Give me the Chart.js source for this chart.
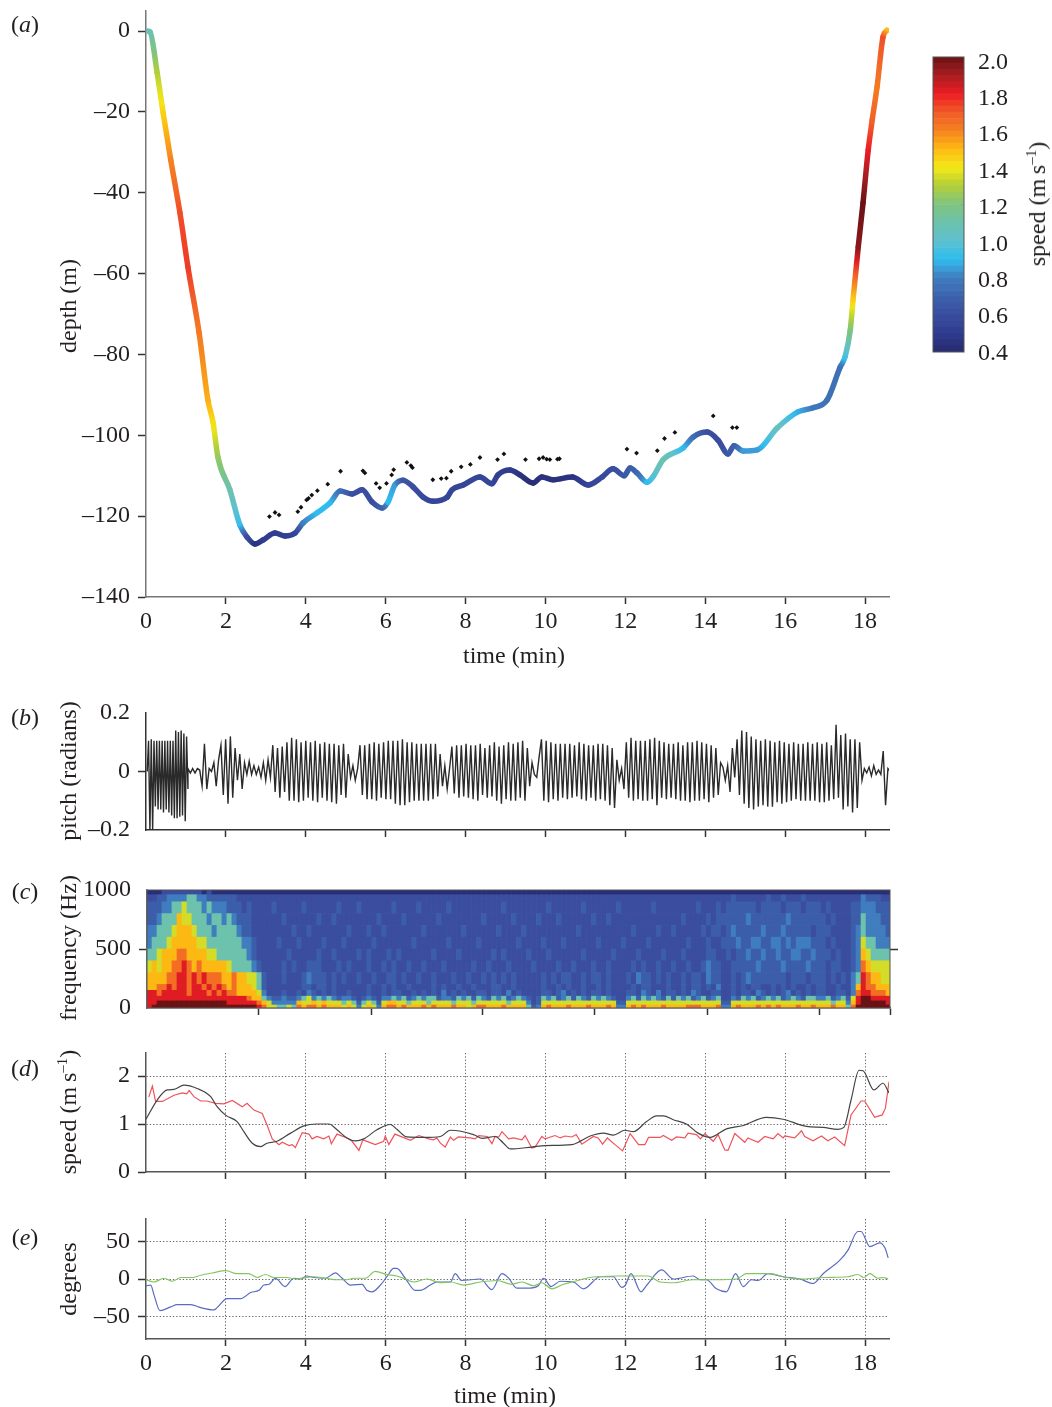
<!DOCTYPE html>
<html>
<head>
<meta charset="utf-8">
<title>dive profile</title>
<script src="https://cdn.jsdelivr.net/npm/chart.js@4"></script>
<style>
  html, body { margin: 0; padding: 0; background: #fff; overflow: hidden; }
  #page { position: relative; width: 1052px; height: 1407px; font-family: "Liberation Serif", serif; color: #231f20; }
  #page canvas { position: absolute; }
  .txt { position: absolute; font-size: 24px; line-height: 24px; white-space: nowrap; transform: translate(-50%, -50%); }
  .rot { transform: translate(-50%, -50%) rotate(-90deg); }
  .txt sup { font-size: 15px; line-height: 0; }
</style>
</head>
<body>
<div id="page"></div>
<script>
// colour scale
const cmapSpeed = [0.4, 0.5, 0.6, 0.7, 0.8, 0.85, 0.9, 0.95, 1.0, 1.1, 1.2, 1.3, 1.4, 1.5, 1.6, 1.7, 1.8, 1.9, 2.0];
const cmapColor = ['#272a6e', '#2f3c8f', '#3a4d9f', '#3c62ad', '#3f7dbf', '#3b9cd8', '#2fbdf0', '#45bfe0', '#5fc0cf', '#6cc2ac', '#7fc47e', '#b2cf3a', '#f5e916', '#fdb913', '#f58220', '#f15a29', '#ed1c24', '#a61e22', '#6b1214'];
const colorTicks = [0.6, 0.8, 1.0, 1.2, 1.4, 1.6, 1.8];

// (a) dive track
const trackTime = [0.03, 0.10, 0.28, 0.43, 0.62, 0.85, 1.05, 1.33, 1.55, 1.68, 1.80, 2.10, 2.35, 2.53, 2.73, 2.93, 3.23, 3.48, 3.73, 3.93, 4.28, 4.61, 4.86, 5.16, 5.41, 5.66, 5.91, 6.06, 6.23, 6.43, 6.69, 6.94, 7.19, 7.54, 7.66, 7.94, 8.36, 8.66, 8.81, 9.11, 9.36, 9.69, 9.91, 10.19, 10.67, 11.07, 11.42, 11.69, 11.97, 12.12, 12.29, 12.54, 12.69, 12.94, 13.45, 13.70, 14.05, 14.32, 14.57, 14.72, 14.95, 15.30, 15.80, 16.32, 16.70, 17.05, 17.38, 17.50, 17.63, 17.70, 17.83, 17.95, 18.08, 18.18, 18.30, 18.45, 18.55];
const trackDepth = [0, -0.2, -10.4, -20.3, -31.9, -45, -58.4, -74.7, -91.3, -96.9, -105.4, -113.5, -122.2, -125.2, -126.9, -125.9, -124.2, -124.9, -124.2, -121.7, -119.2, -116.7, -113.8, -114.5, -113.5, -116.5, -118, -116.5, -112.3, -111.1, -112.8, -115.3, -116.3, -115.3, -113.5, -112.3, -110.3, -112, -109.8, -108.6, -109.8, -111.8, -110.3, -111, -110.3, -112.3, -110.3, -108.3, -110, -108.1, -109.3, -111.6, -110.3, -106.1, -103.1, -100.4, -99.2, -101.2, -104.6, -102.6, -103.9, -103.6, -98.2, -94.2, -93.2, -91.3, -83.1, -80.6, -74, -66.5, -53.4, -42.5, -29.4, -22, -13.9, -1.5, 0.2];
const trackSpeed = [1.05, 1.1, 1.3, 1.45, 1.6, 1.72, 1.75, 1.62, 1.52, 1.42, 1.25, 1.1, 0.92, 0.6, 0.45, 0.5, 0.5, 0.52, 0.55, 0.8, 0.9, 0.9, 0.75, 0.6, 0.6, 0.6, 0.7, 0.9, 0.85, 0.65, 0.6, 0.58, 0.55, 0.55, 0.55, 0.55, 0.55, 0.55, 0.52, 0.5, 0.45, 0.42, 0.45, 0.45, 0.45, 0.55, 0.58, 0.6, 0.65, 0.68, 0.72, 0.9, 0.98, 1.1, 0.9, 0.75, 0.6, 0.58, 0.65, 0.7, 0.85, 0.85, 1.05, 0.88, 0.78, 0.75, 0.75, 0.95, 1.2, 1.45, 1.95, 2.0, 1.8, 1.68, 1.62, 1.72, 1.5];
const dotTime = [3.09, 3.23, 3.33, 3.80, 3.88, 4.02, 4.07, 4.15, 4.29, 4.55, 4.87, 5.43, 5.48, 5.76, 5.85, 6.02, 6.15, 6.20, 6.53, 6.63, 6.67, 7.18, 7.39, 7.52, 7.64, 7.89, 8.12, 8.36, 8.80, 8.96, 9.50, 9.84, 9.94, 10.03, 10.11, 10.30, 10.35, 12.04, 12.28, 12.80, 12.98, 13.24, 14.20, 14.68, 14.79];
const dotDepth = [-120.1, -119.1, -119.7, -118.9, -117.8, -116, -115.6, -114.8, -113.7, -112.1, -108.9, -108.8, -109.3, -111.9, -113, -111.9, -109.8, -108.5, -106.7, -107.5, -108, -111, -110.7, -110.6, -108.9, -107.8, -107.2, -105.5, -106, -104.6, -106, -105.8, -105.5, -105.9, -106, -105.9, -105.8, -103.4, -104.4, -103.8, -100.8, -99.3, -95.2, -98.1, -98.1];

// (b) pitch, the fast strokes at the start and then the rest of the dive
const pitchBurst = [0, 0.105, -0.2, 0.11, -0.2, 0.105, -0.12, 0.105, -0.13, 0.105, -0.13, 0.105, -0.14, 0.105, -0.13, 0.105, -0.14, 0.105, -0.15, 0.105, -0.16, 0.14, -0.16, 0.135, -0.155, 0.14, -0.15, 0.13, -0.17, 0.12, -0.06];
const pitchRest = [0.01, -0.005, 0.01, -0.005, 0.01, 0.005,
  -0.05, 0.095, -0.06, 0.01, 0, 0.03, -0.05, 0.04,
  0.09, -0.08, 0.11, -0.11, 0.12, -0.09,
  0.08, -0.03, 0.06, -0.06, 0.03, -0.01, 0.035, -0.01, 0.02, -0.01, 0.015,
  -0.02, 0.03, -0.03, 0.04, -0.02,
  0.09, -0.07, 0.08, -0.09, 0.085, -0.07, 0.1, -0.1, 0.115, -0.1, 0.11, -0.105, 0.1, -0.1, 0.105, -0.09, 0.1, -0.1, 0.105, -0.105, 0.095, -0.09, 0.1, -0.1, 0.095, -0.105, 0.095, -0.11, 0.09, -0.08, 0.095, -0.09, 0.06, -0.02, 0.02,
  -0.03, 0.01,
  0.09, -0.08, 0.09, -0.095, 0.095, -0.095, 0.1, -0.1, 0.095, -0.09, 0.1, -0.095, 0.105, -0.095, 0.105, -0.11, 0.105, -0.115, 0.11, -0.115, 0.1, -0.105, 0.1, -0.1, 0.095, -0.1, 0.095, -0.1, 0.095, -0.1, 0.095, -0.095, 0.095, -0.085, 0.06,
  -0.05, 0.02, -0.06, 0.01,
  0.085, -0.075, 0.09, -0.09, 0.09, -0.085, 0.095, -0.09, 0.09, -0.095, 0.09, -0.1, 0.095, -0.08, 0.08, -0.09, 0.09, -0.085, 0.1, -0.1, 0.085, -0.11, 0.09, -0.095, 0.1, -0.1, 0.095, -0.1, 0.1, -0.09, 0.105, -0.1, 0.08, -0.05, 0.03,
  -0.01, -0.02, 0.05,
  0.11, -0.1, 0.105, -0.105, 0.1, -0.095, 0.095, -0.1, 0.095, -0.09, 0.095, -0.095, 0.095, -0.09, 0.09, -0.085, 0.1, -0.095, 0.095, -0.1, 0.09, -0.09, 0.09, -0.1, 0.095, -0.095, 0.095, -0.1, 0.09, -0.115, 0.08, -0.125, 0.04,
  -0.03, 0.01, -0.06,
  0.1, -0.09, 0.115, -0.1, 0.105, -0.095, 0.105, -0.1, 0.105, -0.1, 0.11, -0.095, 0.115, -0.115, 0.105, -0.09, 0.1, -0.095, 0.095, -0.09, 0.095, -0.095, 0.1, -0.1, 0.09, -0.1, 0.1, -0.105, 0.1, -0.1, 0.105, -0.1, 0.1, -0.095, 0.095, -0.105, 0.09, -0.09, 0.08, -0.08, 0.03,
  0.015, -0.03, 0.02, -0.07,
  0.08, -0.02, 0.11, -0.08, 0.14, -0.11, 0.135, -0.125, 0.12, -0.13, 0.11, -0.12, 0.105, -0.115, 0.11, -0.12, 0.105, -0.12, 0.1, -0.105, 0.105, -0.11, 0.1, -0.105, 0.095, -0.1, 0.1, -0.095, 0.095, -0.1, 0.095, -0.1, 0.1, -0.1, 0.095, -0.1, 0.1, -0.105, 0.095, -0.105, 0.1, -0.1, 0.09, -0.095, 0.16, -0.09, 0.125, -0.13, 0.13, -0.12, 0.11, -0.14, 0.11, -0.125, 0.1, -0.03,
  0.01, -0.005, 0.015, -0.015, 0.02, -0.01, 0.005, -0.01, 0.07, -0.115, 0.01, 0];

// (c) spectrogram, one digit per 0.125 min column (level 0-9), one string per frequency band
const bandEdges = [0, 25, 60, 100, 150, 200, 300, 400, 500, 600, 700, 800, 900, 960, 1000];
const levelSpeed = [0.42, 0.6, 0.68, 0.8, 1.1, 1.35, 1.5, 1.65, 1.82, 2.0];
const band0 = '89999 99999 99999 99999 99875 54454 76776 76665 65356 53677 67666 76766 67665 67766 67666 64236 76667 66676 66763 36767 66676 66677 76667 33676 66767 67666 76676 66766 47 99999999';
const band1 = '88999 99999 99999 98888 88765 33333 65565 65554 54245 42566 55455 54555 54555 45555 55455 53125 55555 55555 55552 25555 55555 55555 55555 22555 55555 55555 55555 55455 36 89999988';
const band2 = '88888 88888 88888 88888 76643 22322 34534 34323 32123 21334 34234 34423 32434 24324 34234 32124 34234 24324 34321 13424 34324 24342 34234 11324 34234 34234 32443 34234 25 89988887';
const band3 = '88788 88878 88787 87766 66531 11211 21321 21211 21112 11212 21121 21213 12121 12212 21312 11112 21231 21212 21211 12213 21312 21213 21122 11212 21321 21231 21212 21122 13 78877766';
const band4 = '66778 78878 87878 76766 65421 11111 12212 21211 11112 11212 11211 11212 11211 21112 21121 11112 11212 11211 21211 11212 21112 11212 21213 11212 12211 21212 11212 21121 13 68776666';
const band5 = '66667 78878 78777 66766 55421 11211 12322 21212 11211 21122 12112 11211 12112 11212 12121 11112 12122 11212 21211 12132 21212 11212 21322 11212 32222 22212 22122 21212 13 48766555';
const band6 = '56566 77876 76666 65444 43211 11212 11222 11121 21112 11212 11211 21112 11111 21121 11211 11211 11211 21112 11211 11212 11211 21121 12322 11222 22322 22322 22322 21221 12 37655555';
const band7 = '44566 67766 66554 44444 32111 11121 11112 11211 11212 11121 21111 11211 11211 11112 12111 12111 21111 11211 11121 11121 11121 11211 11221 12122 32232 23223 32232 22121 12 36544444';
const band8 = '34445 66666 55444 44443 32111 12111 21111 21112 11111 21111 11121 11111 21111 12111 11112 11112 11121 11111 21111 21111 21111 11121 11211 22232 23322 33232 33322 21211 12 35443333';
const band9 = '33444 56665 44434 44432 21111 11112 11211 11111 21112 11211 11111 21111 11121 11111 21111 21111 11111 12111 11111 11211 11211 21111 12122 12322 22232 22322 22212 22111 12 34333322';
const band10 = '22344 46554 44344 34322 21111 11211 11112 11211 11111 12111 12111 11121 11111 11211 11121 11121 11211 11112 11211 11111 11111 11211 11212 22222 32222 22232 22222 21211 12 24333222';
const band11 = '22233 44544 43433 32221 21111 21111 12111 11121 11211 11112 11112 11111 21111 11111 12111 11111 21111 11211 11112 11111 12111 11111 21112 12222 22122 22122 21222 12111 12 23332221';
const band12 = '11223 33344 33222 22211 11111 11111 11111 11111 11111 11111 11111 11111 11111 11111 11111 11111 11111 11111 11111 11111 11111 11111 11111 11211 11112 11211 12111 11111 11 13222111';
const band13 = '00011 11111 10100 00000 00000 00000 00000 00000 00000 00000 00000 00000 00000 00000 00000 00000 00000 00000 00000 00000 00000 00000 00000 00000 00000 00000 00000 00000 00 00000000';
const bandLevels = [band0, band1, band2, band3, band4, band5, band6, band7, band8, band9, band10, band11, band12, band13];
// thin vertical streaks: time, low and high frequency, speed colour
const streakTime = [3.58, 3.72, 3.95, 4.20, 4.40, 4.70, 5.05, 5.40, 5.75, 6.10, 6.40, 6.70, 7.00, 7.40, 7.70, 8.05, 8.40, 8.70, 8.90, 9.25, 9.90, 10.15, 10.50, 10.85, 11.15, 11.40, 12.10, 12.40, 12.70, 13.00, 13.30, 13.60, 13.90, 14.10, 14.75, 15.00, 15.30, 15.60, 16.00, 16.30, 16.60, 16.95];
const streakLow = [400, 100, 100, 100, 270, 100, 100, 100, 100, 100, 100, 100, 100, 100, 100, 100, 100, 100, 50, 100, 100, 100, 100, 100, 50, 100, 100, 100, 100, 100, 100, 100, 100, 100, 100, 100, 100, 100, 100, 100, 100, 100];
const streakHigh = [470, 280, 200, 170, 470, 210, 190, 220, 170, 240, 180, 200, 230, 190, 210, 170, 260, 190, 960, 200, 220, 170, 240, 190, 1000, 200, 240, 180, 220, 190, 230, 200, 170, 380, 280, 230, 190, 260, 200, 220, 180, 240];
const streakSpeed = [0.95, 0.9, 0.9, 0.9, 1.6, 0.9, 0.9, 0.95, 0.9, 0.9, 0.9, 0.95, 0.9, 0.9, 0.9, 0.9, 0.95, 0.9, 1.15, 0.9, 0.9, 0.9, 0.95, 0.9, 1.3, 0.9, 0.95, 0.9, 0.9, 0.9, 0.95, 0.9, 0.9, 0.95, 0.95, 0.9, 0.9, 0.95, 0.9, 0.9, 0.9, 0.95];
// faint tones near the end of the dive: start, end, frequency
const toneStart = [14.67, 15.67, 15.67, 15.2];
const toneEnd = [16.0, 17.05, 17.05, 16.5];
const toneFreq = [620, 550, 490, 263];
const specTicks = [2.80, 5.61, 8.41, 11.21, 14.04, 16.84, 18.6];

// (d) speed
const speedTime = [0, 0.28, 0.53, 0.7, 0.95, 1.28, 1.62, 1.78, 2, 2.28, 2.45, 2.66, 2.87, 3.03, 3.28, 3.62, 3.95, 4.28, 4.58, 4.78, 5.03, 5.24, 5.45, 5.78, 6.12, 6.28, 6.53, 6.95, 7.37, 7.62, 8.2, 8.41, 8.74, 8.95, 9.12, 9.66, 9.99, 10.66, 11.12, 11.45, 11.7, 11.99, 12.2, 12.53, 12.78, 12.95, 13.2, 13.53, 13.82, 14.12, 14.53, 14.95, 15.53, 15.95, 16.53, 16.95, 17.32, 17.47, 17.65, 17.85, 17.95, 18.22, 18.45, 18.6];
const speedDepthRate = [1.1, 1.5, 1.71, 1.72, 1.81, 1.74, 1.57, 1.36, 1.18, 1.05, 0.84, 0.6, 0.53, 0.6, 0.64, 0.81, 0.96, 1, 1, 0.88, 0.71, 0.65, 0.69, 0.88, 0.99, 0.89, 0.73, 0.72, 0.74, 0.87, 0.78, 0.7, 0.74, 0.6, 0.48, 0.52, 0.55, 0.57, 0.75, 0.81, 0.77, 0.87, 0.84, 1.05, 1.17, 1.17, 1.09, 1, 0.81, 0.72, 0.9, 0.97, 1.14, 1.1, 0.95, 0.93, 0.89, 0.93, 1.5, 2.12, 2.11, 1.71, 1.85, 1.65];
const flowTime = [0.07, 0.16, 0.24, 0.41, 0.7, 0.91, 1.02, 1.08, 1.2, 1.37, 1.53, 1.74, 1.95, 2.16, 2.41, 2.53, 2.7, 2.91, 3.03, 3.16, 3.33, 3.41, 3.58, 3.66, 3.74, 3.91, 4.08, 4.16, 4.28, 4.45, 4.58, 4.64, 4.78, 5.03, 5.16, 5.33, 5.43, 5.74, 5.95, 5.99, 6.08, 6.23, 6.62, 6.83, 7.08, 7.2, 7.28, 7.37, 7.49, 7.62, 7.7, 7.82, 8.12, 8.24, 8.33, 8.54, 8.66, 8.74, 8.83, 8.91, 9.08, 9.2, 9.41, 9.49, 9.66, 9.74, 9.91, 9.99, 10.24, 10.37, 10.49, 10.66, 10.77, 10.91, 11.2, 11.32, 11.43, 11.55, 11.74, 11.93, 12.12, 12.33, 12.49, 12.58, 12.87, 12.95, 13.16, 13.28, 13.49, 13.57, 13.78, 13.88, 13.99, 14.2, 14.32, 14.49, 14.57, 14.74, 14.99, 15.07, 15.32, 15.49, 15.7, 15.82, 15.95, 15.99, 16.24, 16.41, 16.49, 16.7, 16.91, 17.07, 17.24, 17.49, 17.65, 17.9, 17.99, 18.24, 18.43, 18.51, 18.6];
const flowSpeed = [1.56, 1.79, 1.47, 1.47, 1.6, 1.65, 1.63, 1.7, 1.57, 1.48, 1.48, 1.43, 1.42, 1.49, 1.36, 1.43, 1.29, 1.22, 0.98, 0.69, 0.57, 0.62, 0.55, 0.57, 0.51, 0.82, 0.79, 0.69, 0.74, 0.69, 0.75, 0.59, 0.79, 0.71, 0.64, 0.45, 0.67, 0.57, 0.64, 0.75, 0.57, 0.79, 0.66, 0.76, 0.69, 0.67, 0.71, 0.6, 0.52, 0.73, 0.66, 0.73, 0.71, 0.69, 0.76, 0.74, 0.59, 0.74, 0.73, 0.84, 0.69, 0.71, 0.67, 0.76, 0.5, 0.52, 0.74, 0.69, 0.76, 0.71, 0.75, 0.73, 0.78, 0.58, 0.74, 0.71, 0.58, 0.71, 0.57, 0.44, 0.8, 0.57, 0.57, 0.72, 0.72, 0.76, 0.66, 0.73, 0.71, 0.81, 0.78, 0.69, 0.8, 0.64, 0.78, 0.46, 0.45, 0.8, 0.62, 0.71, 0.62, 0.74, 0.69, 0.8, 0.71, 0.75, 0.71, 0.86, 0.74, 0.65, 0.75, 0.65, 0.73, 0.55, 1.19, 1.48, 1.48, 1.14, 1.19, 1.33, 1.88];

// (e) degrees
const blueTime = [0, 0.12, 0.2, 0.35, 0.62, 0.78, 1.12, 1.37, 1.7, 1.78, 2.03, 2.37, 2.62, 2.83, 2.95, 3.08, 3.24, 3.48, 3.7, 3.87, 4.02, 4.2, 4.49, 4.74, 4.91, 5.12, 5.41, 5.53, 5.66, 5.87, 6.03, 6.2, 6.28, 6.49, 6.74, 6.87, 7.12, 7.28, 7.62, 7.74, 7.9, 8.37, 8.66, 8.91, 9.08, 9.28, 9.62, 9.82, 9.95, 10.14, 10.37, 10.7, 10.95, 11.37, 11.7, 11.91, 12, 12.14, 12.39, 12.54, 12.91, 13.2, 13.7, 13.87, 14.03, 14.28, 14.53, 14.76, 14.95, 15.16, 15.32, 15.57, 15.95, 16.37, 16.7, 16.95, 17.37, 17.57, 17.82, 17.9, 18.12, 18.37, 18.5, 18.58];
const blueDeg = [-9, -8, -21, -42, -37, -34, -34, -38, -41, -38, -26, -26, -18, -15, -8, -7, 1, -10, 1, 0, 4, 2, 1, 8, 1, -8, -7, -15, -17, -8, 3, 14, 14, 1, -15, -15, -8, -4, -4, 7, -2, 0, -14, 7, 1, -12, -12, -9, 1, -10, -3, -4, -13, 3, 3, -11, -8, 7, -17, -8, 12, 0, 4, -1, -1, -13, -17, 7, -10, -1, -2, 7, 3, 0, -6, 7, 25, 38, 63, 63, 43, 48, 41, 28];
const greenTime = [0, 0.2, 0.45, 0.66, 0.87, 1.16, 1.37, 1.66, 2, 2.28, 2.57, 2.78, 2.99, 3.2, 3.53, 3.74, 4.2, 4.49, 4.78, 5.03, 5.2, 5.49, 5.74, 6.03, 6.28, 6.49, 6.7, 7.03, 7.37, 7.62, 7.95, 8.37, 8.79, 9.16, 9.41, 9.7, 9.91, 10.16, 10.45, 10.74, 11.12, 11.78, 12.57, 12.87, 13.2, 13.7, 14.28, 14.78, 15.03, 15.62, 16.03, 16.45, 16.95, 17.57, 17.82, 17.97, 18.12, 18.32, 18.45, 18.58];
const greenDeg = [-1, -4, 1, -3, 2, 2, 5, 8, 11, 7, 7, 2, 6, 2, 2, 0, 3, 1, -1, -1, 1, 1, 10, 6, 4, 0, -4, 0, -5, -4, -8, -4, -2, -7, -4, -9, -5, -13, -7, -3, 2, 4, 4, -4, -5, -1, -1, 0, 7, 7, 2, 0, 2, 3, 6, 2, 7, 1, 2, 0];

const timeTicks = [0, 2, 4, 6, 8, 10, 12, 14, 16, 18];

Chart.defaults.font.family = '"Liberation Serif", serif';
Chart.defaults.font.size = 24;
Chart.defaults.color = '#231f20';

const page = document.getElementById('page');
const PAD = 30;
const HIDDEN = 'rgba(0,0,0,0)';

function zip(xs, ys) {
  return xs.map((x, i) => ({ x: x, y: ys[i] }));
}

function speedColor(v) {
  let i = 0;
  while (i < cmapSpeed.length - 2 && v > cmapSpeed[i + 1]) { i += 1; }
  const f = Math.min(1, Math.max(0, (v - cmapSpeed[i]) / (cmapSpeed[i + 1] - cmapSpeed[i])));
  const a = parseInt(cmapColor[i].slice(1), 16);
  const b = parseInt(cmapColor[i + 1].slice(1), 16);
  const mix = (s) => Math.round(((a >> s) & 255) * (1 - f) + ((b >> s) & 255) * f);
  return `rgb(${mix(16)}, ${mix(8)}, ${mix(0)})`;
}

function levelColor(level) {
  return speedColor(levelSpeed[level]);
}

function addText(html, x, y, rotated) {
  const el = document.createElement('div');
  el.className = rotated ? 'txt rot' : 'txt';
  el.innerHTML = html;
  el.style.left = `${x}px`;
  el.style.top = `${y}px`;
  page.appendChild(el);
}

function dash(value) {
  return String(value).replace('-', '\u2013');
}

function xAxis(opts) {
  return {
    type: 'linear',
    offset: false,
    min: 0,
    max: 18.6,
    border: { color: opts.border || '#555', width: 1.5, dash: opts.dots ? [1.3, 2] : undefined },
    grid: {
      offset: false,
      drawOnChartArea: !!opts.dots,
      color: (ctx) => (ctx.tick && ctx.tick.value === 0 ? HIDDEN : '#666'),
      lineWidth: 1,
      tickColor: (ctx) => (ctx.tick && ctx.tick.value === 0 ? HIDDEN : '#333'),
      tickWidth: 1.5,
      tickLength: 7
    },
    ticks: {
      display: !!opts.labels,
      autoSkip: false,
      maxRotation: 0,
      padding: 3,
      callback: (value) => value
    },
    afterBuildTicks: (scale) => { scale.ticks = (opts.ticks || timeTicks).map((v) => ({ value: v })); },
    afterFit: (scale) => { scale.height = opts.height; }
  };
}

function yAxis(opts) {
  return {
    min: opts.min,
    max: opts.max,
    border: { color: opts.border || '#555', width: 1.5, dash: opts.dots ? [1.3, 2] : undefined },
    grid: {
      drawOnChartArea: !!opts.dots,
      color: (ctx) => (ctx.tick && ctx.tick.value === opts.min ? HIDDEN : '#666'),
      lineWidth: 1,
      tickColor: opts.tickColor || '#333',
      tickWidth: 1.5,
      tickLength: 8
    },
    ticks: {
      padding: 8,
      autoSkip: false,
      callback: (value) => dash(value)
    },
    afterBuildTicks: (scale) => { scale.ticks = opts.ticks.map((v) => ({ value: v })); },
    afterFit: (scale) => { scale.width = opts.left || 146; }
  };
}

function makeChart(box, config) {
  const canvas = document.createElement('canvas');
  canvas.width = box.width;
  canvas.height = box.height;
  canvas.style.left = `${box.left}px`;
  canvas.style.top = `${box.top}px`;
  page.appendChild(canvas);
  config.options.responsive = false;
  config.options.animation = false;
  config.options.events = [];
  config.options.layout = { padding: box.padding };
  config.options.plugins = { legend: { display: false }, tooltip: { enabled: false } };
  return new Chart(canvas, config);
}

function plotBox(top, bottom, xHeight) {
  return {
    left: 0,
    top: top - PAD,
    width: 889 + 30,
    height: PAD + (bottom - top) + xHeight,
    padding: { top: PAD, right: 30, bottom: 0, left: 0 }
  };
}

function line(points, color, width, smooth) {
  return {
    type: 'line',
    data: points,
    borderColor: color,
    borderWidth: width,
    pointRadius: 0,
    cubicInterpolationMode: smooth ? 'monotone' : 'default',
    tension: 0
  };
}

// panel a, track segments shaded by speed
function trackGradient(ctx) {
  const g = ctx.chart.ctx.createLinearGradient(ctx.p0.x, ctx.p0.y, ctx.p1.x, ctx.p1.y);
  const s0 = trackSpeed[ctx.p0DataIndex];
  const s1 = trackSpeed[ctx.p1DataIndex];
  [0, 0.25, 0.5, 0.75, 1].forEach((f) => g.addColorStop(f, speedColor(s0 + (s1 - s0) * f)));
  return g;
}

makeChart(plotBox(11, 597, 50), {
  type: 'scatter',
  data: {
    datasets: [
      {
        type: 'line',
        data: zip(trackTime, trackDepth),
        borderWidth: 5.5,
        borderCapStyle: 'round',
        borderJoinStyle: 'round',
        pointRadius: 0,
        cubicInterpolationMode: 'monotone',
        segment: { borderColor: trackGradient }
      },
      {
        data: zip(dotTime, dotDepth),
        pointStyle: 'rectRot',
        pointRadius: 2.4,
        pointBackgroundColor: '#111',
        pointBorderWidth: 0
      }
    ]
  },
  options: {
    scales: {
      x: xAxis({ labels: true, height: 50, border: '#777' }),
      y: yAxis({ min: -140, max: 4.95, ticks: [0, -20, -40, -60, -80, -100, -120, -140], border: '#777' })
    }
  }
});

// colour bar
const colorLevels = [];
for (let v = 0.4; v < 2.0; v += 1.6 / 48) { colorLevels.push(v); }
const tickMarks = [];
colorTicks.forEach((v) => { tickMarks.push({ x: 0.85, y: v }, { x: 1, y: v }, { x: null, y: null }); });
const frame = {
  id: 'frame',
  afterDatasetsDraw(chart) {
    const { ctx, chartArea } = chart;
    ctx.save();
    ctx.strokeStyle = '#555';
    ctx.lineWidth = 1;
    ctx.strokeRect(chartArea.left, chartArea.top, chartArea.width, chartArea.height);
    ctx.restore();
  }
};
makeChart({
  left: 900,
  top: 57 - PAD,
  width: 152,
  height: PAD + 295 + 30,
  padding: { top: PAD, right: 0, bottom: 30, left: 33 }
}, {
  type: 'bar',
  plugins: [frame],
  data: {
    datasets: colorLevels.map((v) => ({
      data: [{ x: 0.5, y: [v, v + 1.6 / 48] }],
      backgroundColor: speedColor(v + 0.8 / 48),
      yAxisID: 'y'
    })).concat([line(tickMarks, '#333', 1)])
  },
  options: {
    datasets: { bar: { barPercentage: 1, categoryPercentage: 1, grouped: false } },
    scales: {
      x: { type: 'linear', offset: false, min: 0, max: 1, display: false },
      y: { min: 0.4, max: 2.0, display: false },
      y2: {
        position: 'right',
        min: 0.408,
        max: 2.029,
        border: { display: false },
        grid: { display: false, drawTicks: false },
        ticks: { padding: 14, callback: (value) => value.toFixed(1) },
        afterBuildTicks: (scale) => { scale.ticks = [0.4, 0.6, 0.8, 1.0, 1.2, 1.4, 1.6, 1.8, 2.0].map((v) => ({ value: v })); },
        afterFit: (scale) => { scale.width = 88; }
      }
    }
  }
});

// panel b
const pitchPoints = pitchBurst.map((v, i) => ({ x: 0.03 + i * 0.034, y: v }))
  .concat(pitchRest.map((v, i) => ({ x: 1.05 + i * 0.059, y: v })));
makeChart(plotBox(713, 830, 40), {
  type: 'line',
  data: { datasets: [line(pitchPoints, '#2a2a2a', 1.4)] },
  options: {
    scales: {
      x: xAxis({ height: 40, border: '#333' }),
      y: yAxis({
        min: -0.2,
        max: 0.2,
        ticks: [-0.2, 0, 0.2],
        border: '#333',
        tickColor: (ctx) => (ctx.tick.value === 0 ? '#333' : HIDDEN)
      })
    }
  }
});

// panel c
const specCells = bandLevels.map((band, b) => {
  const levels = band.replace(/\s/g, '').split('').map(Number);
  return {
    type: 'bar',
    data: levels.map((_, i) => ({ x: 0.0625 + i * 0.125, y: [bandEdges[b], bandEdges[b + 1]] })),
    backgroundColor: levels.map(levelColor),
    borderWidth: 0
  };
});
const streakSets = streakTime.map((t, i) => line([{ x: t, y: streakLow[i] }, { x: t, y: streakHigh[i] }], speedColor(streakSpeed[i]), 1));
const toneSets = toneStart.map((t, i) => line([{ x: t, y: toneFreq[i] }, { x: toneEnd[i], y: toneFreq[i] }], speedColor(0.92), 1));
const topTicks = [];
specTicks.slice(0, 6).forEach((t) => { topTicks.push({ x: t, y: 1000 }, { x: t, y: 940 }, { x: null, y: null }); });
makeChart({
  left: 0,
  top: 890 - PAD,
  width: 890 + 30,
  height: PAD + 118 + 40,
  padding: { top: PAD, right: 22, bottom: 0, left: 0 }
}, {
  type: 'bar',
  plugins: [frame],
  data: { datasets: specCells.concat(streakSets, toneSets, [line(topTicks, '#333', 1.5)]) },
  options: {
    datasets: { bar: { barPercentage: 1, categoryPercentage: 1, grouped: false } },
    scales: {
      x: xAxis({ height: 40, ticks: specTicks, border: '#777' }),
      y: yAxis({ min: 0, max: 1000, ticks: [0, 500, 1000], border: '#777', left: 147, tickColor: (ctx) => (ctx.tick.value === 500 ? '#333' : HIDDEN) }),
      y2: {
        position: 'right',
        min: 0,
        max: 1000,
        border: { display: false },
        grid: { drawOnChartArea: false, tickColor: '#333', tickWidth: 1.5, tickLength: 8 },
        ticks: { display: false },
        afterBuildTicks: (scale) => { scale.ticks = [{ value: 500 }]; },
        afterFit: (scale) => { scale.width = 8; }
      }
    }
  }
});

// panel d
makeChart(plotBox(1053, 1172, 40), {
  type: 'line',
  data: {
    datasets: [
      line(zip(speedTime, speedDepthRate), '#444', 1.2, true),
      line(zip(flowTime, flowSpeed), '#f0525a', 1.2, false)
    ]
  },
  options: {
    scales: {
      x: xAxis({ height: 40, dots: true }),
      y: yAxis({ min: 0, max: 2.48, ticks: [0, 1, 2], dots: true })
    }
  }
});

// panel e
makeChart(plotBox(1219, 1339, 50), {
  type: 'line',
  data: {
    datasets: [
      line(zip(greenTime, greenDeg), '#84c561', 1.2, true),
      line(zip(blueTime, blueDeg), '#5a6cbf', 1.2, true)
    ]
  },
  options: {
    scales: {
      x: xAxis({ labels: true, height: 50, dots: true }),
      y: yAxis({ min: -79.6, max: 79.6, ticks: [-50, 0, 50], dots: true })
    }
  }
});

// labels and panel letters
addText('(<i>a</i>)', 25, 24);
addText('(<i>b</i>)', 25, 717);
addText('(<i>c</i>)', 25, 891);
addText('(<i>d</i>)', 25, 1068);
addText('(<i>e</i>)', 25, 1237);
addText('time (min)', 514, 655);
addText('time (min)', 505, 1395);
addText('depth (m)', 68, 306, true);
addText('pitch (radians)', 68, 771, true);
addText('frequency (Hz)', 68, 948, true);
addText('speed (m\u2009s<sup>\u20131</sup>)', 68, 1112, true);
addText('degrees', 68, 1279, true);
addText('speed (m\u2009s<sup>\u20131</sup>)', 1037, 204, true);
</script>
</body>
</html>
